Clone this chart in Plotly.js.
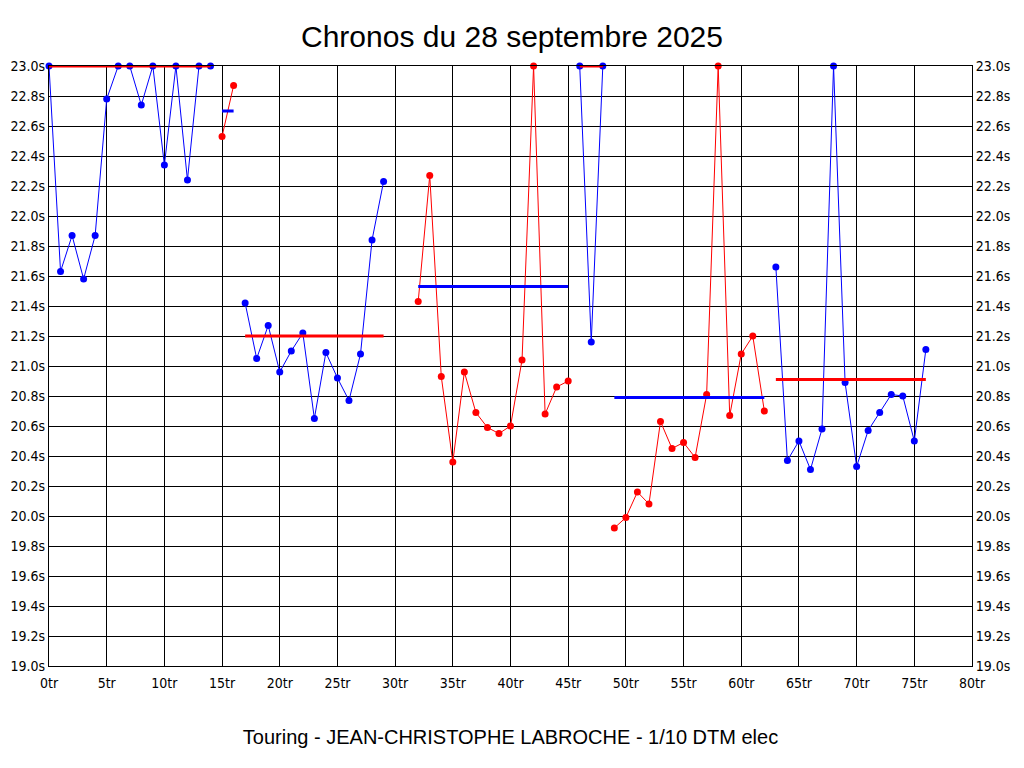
<!DOCTYPE html>
<html>
<head>
<meta charset="utf-8">
<script src="https://cdn.plot.ly/plotly-3.0.1.min.js"></script>
<style>
  body { margin: 0; background: #fff; }
  #chart { width: 1024px; height: 768px; outline: 1px solid #000; outline-offset: -1px; }
</style>
</head>
<body>
<div id="chart"></div>
<script>
// lap times (s), index = lap number, null = no lap recorded
let lapTimes = [
    23.0, 21.63, 21.87, 21.58, 21.87, 22.78, 23.0, 23.0, 22.74, 23.0,
    22.34, 23.0, 22.24, 23.0, 23.0, 22.53, 22.87, 21.42, 21.05, 21.27,
    20.96, 21.10, 21.22, 20.65, 21.09, 20.92, 20.77, 21.08, 21.84, 22.23,
    null, null, 21.43, 22.27, 20.93, 20.36, 20.96, 20.69, 20.59, 20.55,
    20.60, 21.04, 23.0, 20.68, 20.86, 20.90, 23.0, 21.16, 23.0, 19.92,
    19.99, 20.16, 20.08, 20.63, 20.45, 20.49, 20.39, 20.81, 23.0, 20.67,
    21.08, 21.20, 20.70, 21.66, 20.37, 20.50, 20.31, 20.58, 23.0, 20.89,
    20.33, 20.57, 20.69, 20.81, 20.80, 20.50, 21.11
];

// each stint: first and last lap
let stintStart = [0, 15, 17, 32, 46, 49, 63];
let stintEnd   = [14, 16, 29, 45, 48, 62, 76];
// average shown for each stint (clipped at 23.0s)
let stintAvg   = [23.0, 22.70, 21.20, 21.53, 23.0, 20.79, 20.91];
let stintColor = ["blue", "red", "blue", "red", "blue", "red", "blue"];
let avgColor   = ["red", "blue", "red", "blue", "red", "blue", "red"];

let traces = [];

// average lines first, so the points sit on top
for (let i = 0; i < stintStart.length; i++) {
    traces.push({
        x: [stintStart[i], stintEnd[i]],
        y: [stintAvg[i], stintAvg[i]],
        yaxis: "y2",
        type: "scatter",
        mode: "lines",
        line: {color: avgColor[i], width: 3},
        cliponaxis: false,
        hoverinfo: "skip",
        showlegend: false
    });
}

// lap time lines
for (let i = 0; i < stintStart.length; i++) {
    let xs = [], ys = [];
    for (let lap = stintStart[i]; lap <= stintEnd[i]; lap++) {
        xs.push(lap);
        ys.push(lapTimes[lap]);
    }
    traces.push({
        x: xs,
        y: ys,
        type: "scatter",
        mode: "lines+markers",
        line: {color: stintColor[i], width: 1},
        marker: {color: stintColor[i], size: 7},
        cliponaxis: false,
        showlegend: false
    });
}

let tickFont = {family: "DejaVu Sans Condensed, Liberation Sans Narrow, sans-serif", size: 14, color: "#000"};

let layout = {
    width: 1024,
    height: 768,
    margin: {l: 49, r: 52, t: 66, b: 102},
    paper_bgcolor: "#fff",
    plot_bgcolor: "#fff",
    showlegend: false,
    title: {
        text: "Chronos du 28 septembre 2025",
        font: {family: "Liberation Sans, Arial, sans-serif", size: 30, color: "#000"},
        x: 0.5,
        xanchor: "center",
        y: 0.953,
        yanchor: "middle"
    },
    xaxis: {
        range: [0, 80],
        dtick: 5,
        tick0: 0,
        ticksuffix: "tr",
        showgrid: true,
        gridcolor: "#000",
        gridwidth: 1,
        zeroline: false,
        showline: true,
        linecolor: "#000",
        linewidth: 1,
        mirror: true,
        ticks: "",
        ticklabelstandoff: 4,
        tickfont: tickFont,
        title: {
            text: "Touring - JEAN-CHRISTOPHE LABROCHE - 1/10 DTM elec",
            font: {family: "Liberation Sans, Arial, sans-serif", size: 20, color: "#000"},
            standoff: 40
        }
    },
    yaxis: {
        range: [19.0, 23.0],
        dtick: 0.2,
        tick0: 19.0,
        tickformat: ".1f",
        ticksuffix: "s",
        showgrid: true,
        gridcolor: "#000",
        gridwidth: 1,
        zeroline: false,
        showline: true,
        linecolor: "#000",
        linewidth: 1,
        ticks: "",
        tickfont: tickFont
    },
    yaxis2: {
        range: [19.0, 23.0],
        dtick: 0.2,
        tick0: 19.0,
        tickformat: ".1f",
        ticksuffix: "s",
        overlaying: "y",
        side: "right",
        showgrid: false,
        zeroline: false,
        showline: true,
        linecolor: "#000",
        linewidth: 1,
        ticks: "",
        tickfont: tickFont
    }
};

Plotly.newPlot("chart", traces, layout, {displayModeBar: false, staticPlot: true});
</script>
</body>
</html>
